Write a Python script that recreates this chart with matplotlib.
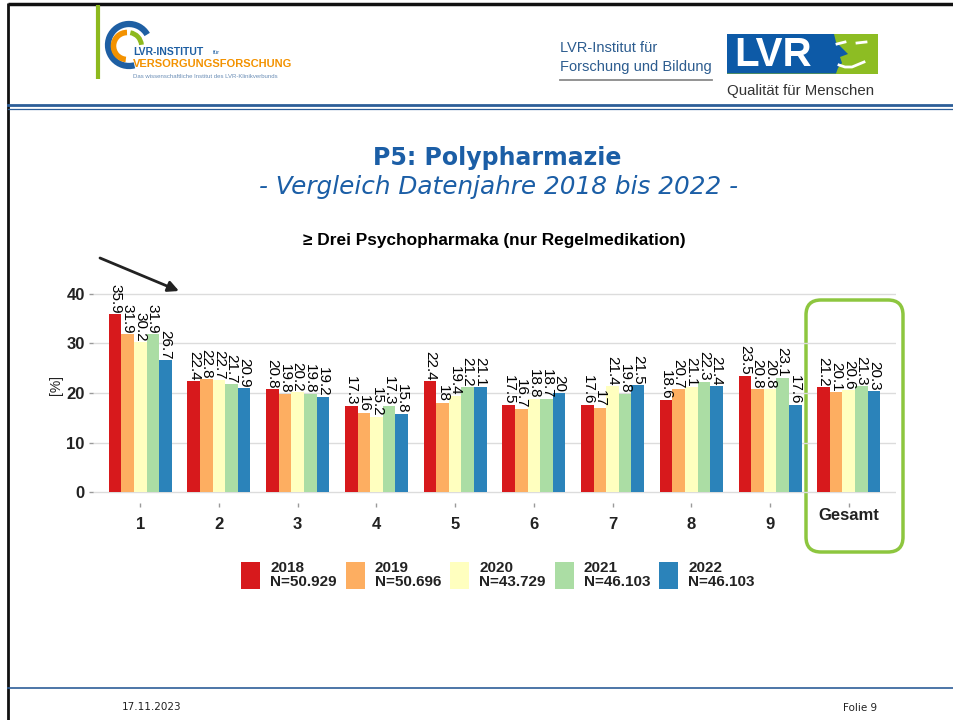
import numpy as np
import matplotlib
matplotlib.use("Agg")
import matplotlib.pyplot as plt
from matplotlib.patches import FancyBboxPatch, Arc, Rectangle, Polygon

# ---------------- data ----------------
categories = ["1", "2", "3", "4", "5", "6", "7", "8", "9", "Gesamt"]
years = ["2018", "2019", "2020", "2021", "2022"]
sample_sizes = ["50.929", "50.696", "43.729", "46.103", "46.103"]
v2018 = [35.9, 22.4, 20.8, 17.3, 22.4, 17.5, 17.6, 18.6, 23.5, 21.2]
v2019 = [31.9, 22.8, 19.8, 16, 18, 16.7, 17, 20.7, 20.8, 20.1]
v2020 = [30.2, 22.7, 20.2, 15.2, 19.4, 18.8, 21.4, 21.1, 20.8, 20.6]
v2021 = [31.9, 21.7, 19.8, 17.3, 21.2, 18.7, 19.8, 22.3, 23.1, 21.3]
v2022 = [26.7, 20.9, 19.2, 15.8, 21.1, 20, 21.5, 21.4, 17.6, 20.3]
y_ticks = [0, 10, 20, 30, 40]
colors = ["#D7191C", "#FDAE61", "#FFFFBF", "#ABDDA4", "#2B83BA"]

W, H = 954, 720
fig = plt.figure(figsize=(W / 100, H / 100), dpi=100)

# ---------------- page background (pixel coordinates) ----------------
bg = fig.add_axes([0, 0, 1, 1])
bg.set_xlim(0, W)
bg.set_ylim(H, 0)
bg.axis("off")

NARROW = ["Liberation Sans Narrow", "Liberation Sans"]
blue_dark = "#2D5E98"

# frame
bg.plot([8, W], [4, 4], color="#111111", lw=2.5, solid_capstyle="butt")
bg.plot([8, 8], [3, H], color="#111111", lw=2, solid_capstyle="butt")
# header separator (double line)
bg.plot([8, W], [105, 105], color=blue_dark, lw=2)
bg.plot([8, W], [108.5, 108.5], color=blue_dark, lw=0.9)
# footer separator
bg.plot([8, W], [688, 688], color=blue_dark, lw=1.2)
bg.text(122, 707, "17.11.2023", fontsize=7.5, va="center", ha="left", color="#222222")
bg.text(877, 708, "Folie 9", fontsize=7.5, va="center", ha="right", color="#222222")

# left logo
bg.plot([98.5, 98.5], [5, 79], color="#8DB91E", lw=3, solid_capstyle="butt")
bg.add_patch(Arc((129, 45), 42, 42, theta1=75, theta2=330, color="#1E5FA3", lw=4.5))
bg.add_patch(Arc((127, 46), 27, 27, theta1=95, theta2=270, color="#F39200", lw=4))
bg.add_patch(Arc((128, 46), 27, 27, theta1=280, theta2=355, color="#8DB91E", lw=3.5))
bg.text(133, 52, "LVR-INSTITUT", fontsize=7.5, fontweight="bold", color="#1E5FA3",
        family="Liberation Sans", va="center", ha="left")
bg.text(213, 52, "für", fontsize=4.5, color="#1E5FA3", family="Liberation Sans",
        va="center", ha="left")
bg.text(133, 64, "VERSORGUNGSFORSCHUNG", fontsize=8, fontweight="bold", color="#F39200",
        family="Liberation Sans", va="center", ha="left")
bg.text(133, 76, "Das wissenschaftliche Institut des LVR-Klinikverbunds", fontsize=4.3,
        color="#6A8DB5", family="Liberation Sans", va="center", ha="left")

# right logo
bg.text(560, 48, "LVR-Institut für", fontsize=10.5, color="#2C5C8F", family=NARROW,
        va="center", ha="left")
bg.text(560, 67, "Forschung und Bildung", fontsize=10.5, color="#2C5C8F", family=NARROW,
        va="center", ha="left")
bg.plot([560, 712], [79.5, 79.5], color="#8A8A8A", lw=1.3)
bg.add_patch(Rectangle((727, 34), 151, 39.5, color="#8DBD23", lw=0))
bg.add_patch(Polygon([(727, 34), (834, 34), (836, 42), (842, 48), (848, 54), (840, 57),
                      (842, 63), (838, 68), (836, 73.5), (727, 73.5)],
                     closed=True, color="#0D5AA7", lw=0))
bg.text(734, 54.5, "LVR", fontsize=29, fontweight="bold", color="white",
        family="Liberation Sans", va="center", ha="left")
bg.plot([837, 845], [44, 42], color="white", lw=2)
bg.plot([857, 866], [43, 42], color="white", lw=2)
bg.plot([839, 845, 852, 864], [65, 67, 67, 62], color="white", lw=2)
bg.text(727, 91, "Qualität für Menschen", fontsize=10.8, color="#333333", family=NARROW,
        va="center", ha="left")

# titles
title_blue = "#1B5EA6"
bg.text(497, 158, "P5: Polypharmazie", fontsize=17, fontweight="bold", color=title_blue,
        family="DejaVu Sans", ha="center", va="center")
bg.text(499, 187, "- Vergleich Datenjahre 2018 bis 2022 -", fontsize=17.8, style="italic",
        color=title_blue, family="DejaVu Sans", ha="center", va="center")
bg.text(494, 241, "≥ Drei Psychopharmaka (nur Regelmedikation)", fontsize=12.4,
        fontweight="bold", color="black", family=NARROW + ["DejaVu Sans"],
        ha="center", va="center")

# arrow
bg.annotate("", xy=(179, 291), xytext=(100, 258),
            arrowprops=dict(arrowstyle="-|>", color="#222222", lw=2, mutation_scale=16,
                            shrinkA=0, shrinkB=0))

# green rounded box around "Gesamt"
bg.add_patch(FancyBboxPatch((806, 300), 97, 252,
                            boxstyle="round,pad=0,rounding_size=15",
                            fill=False, ec="#8DC63F", lw=2.5))

# ---------------- chart ----------------
ax = fig.add_axes([93 / W, 1 - 503 / H, 803 / W, 239 / H])
ax.set_facecolor("none")
x = np.arange(len(categories))
series = [v2018, v2019, v2020, v2021, v2022]
bw = 0.16
for i, (vals, c, yr, n) in enumerate(zip(series, colors, years, sample_sizes)):
    xs = x + (i - 2) * bw
    ax.bar(xs, vals, width=bw, color=c, label=f"{yr}\nN={n}", zorder=2, lw=0)
    for xi, v in zip(xs, vals):
        ax.text(xi, v + 0.1, f"{v:g}", rotation=-90, rotation_mode="anchor",
                ha="right", va="center", fontsize=11, family="Liberation Sans",
                color="black", zorder=3)

ax.set_xlim(-0.6, 9.6)
ax.set_ylim(-2.2, 46)
for s in ax.spines.values():
    s.set_visible(False)
ax.set_yticks(y_ticks)
ax.set_yticklabels([str(t) for t in y_ticks])
ax.set_xticks(x)
ax.set_xticklabels(categories)
ax.yaxis.grid(True, color="#dcdcdc", lw=1)
ax.set_axisbelow(True)
ax.tick_params(axis="both", length=3, color="#9a9a9a", width=1, labelsize=12,
               labelcolor="#222222")
ax.tick_params(axis="y", pad=3)
ax.tick_params(axis="x", pad=7)
for lab in ax.get_xticklabels() + ax.get_yticklabels():
    lab.set_fontweight("bold")
    lab.set_family("Liberation Sans")
ax.xaxis.get_major_ticks()[-1].set_pad(0.5)

ax.set_ylabel("[%]", fontsize=10, family="Liberation Sans", color="#222222")
ax.yaxis.set_label_coords(-0.037, 0.494)

leg = fig.legend(loc="center", bbox_to_anchor=(498 / W, 1 - 575 / H), ncol=5,
                 frameon=False,
                 prop=dict(family="Liberation Sans", weight="bold", size=11),
                 handlelength=1.24, handleheight=2.4, handletextpad=0.65,
                 columnspacing=0.6, borderpad=0)
for t in leg.get_texts():
    t.set_linespacing(1.0)
    t.set_color("#222222")

fig.savefig("out.png", dpi=100)
